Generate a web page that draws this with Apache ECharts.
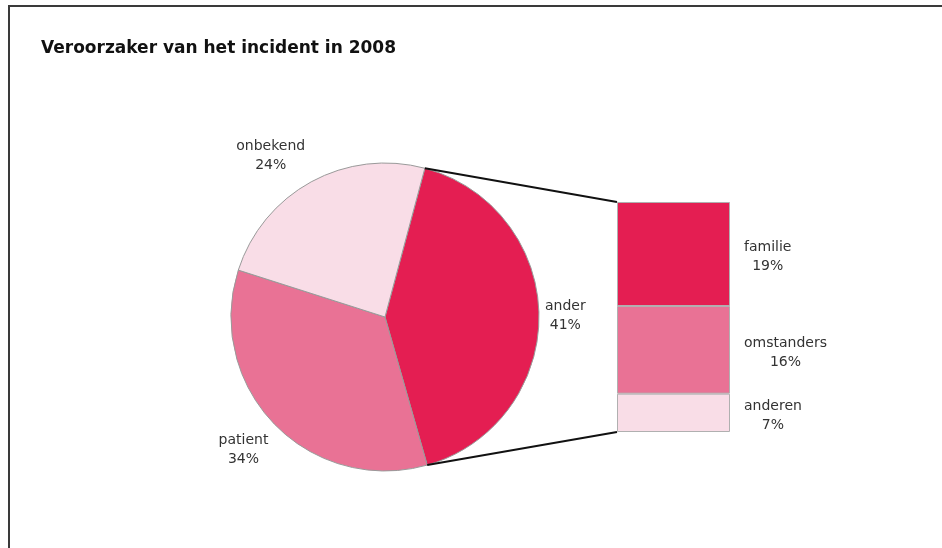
<!DOCTYPE html>
<html>
<head>
<meta charset="utf-8">
<script src="https://cdn.jsdelivr.net/npm/echarts@6/dist/echarts.min.js"></script>
<style>
  html, body { margin: 0; padding: 0; background: #fff; }
  #chart { width: 942px; height: 548px; }
</style>
</head>
<body>
<div id="chart"></div>
<script>
// Main breakdown (pie) and the split of "ander" (stacked bar)
const titleText = 'Veroorzaker van het incident in 2008';
const pieNames = ['ander', 'patient', 'onbekend'];
const pieValues = [41, 34, 24];
const barNames = ['familie', 'omstanders', 'anderen'];
const barValues = [19, 16, 7];

const DARK = '#E41E52', MID = '#E97295', LIGHT = '#F9DDE7';
const pieColors = [DARK, MID, LIGHT];
const barColors = [DARK, MID, LIGHT];
const FONT = '"DejaVu Sans", Verdana, sans-serif';
const TEXT = '#333333';

const CX = 385, CY = 317, R = 154;
const START = 75; // start of the "ander" slice, degrees from 3 o'clock
const GRID = { left: 617, top: 202, width: 113, height: 230 };
const GAP_X = 6, GAP_Y = 7; // distance between pie rim and label box

const pieTotal = pieValues.reduce((a, b) => a + b, 0);
const barTotal = barValues.reduce((a, b) => a + b, 0);

// middle angle of each slice, used to place the labels around the pie
const midAngles = [];
let acc = START;
pieValues.forEach(v => {
  const span = 360 * v / pieTotal;
  midAngles.push(acc - span / 2);
  acc -= span;
});

const chart = echarts.init(document.getElementById('chart'), null, { renderer: 'canvas' });

// bar segments are stacked bottom-up, so build them in reverse order
const barSeries = [];
for (let i = barNames.length - 1; i >= 0; i--) {
  barSeries.push({
    type: 'bar',
    name: barNames[i],
    stack: 'ander',
    barWidth: '100%',
    data: [barValues[i]],
    itemStyle: { color: barColors[i], borderColor: '#b0b0b0', borderWidth: 1 },
    label: {
      show: true,
      position: 'right',
      formatter: barNames[i] + '\n' + barValues[i] + '%',
      color: TEXT,
      fontFamily: FONT,
      fontSize: 14,
      lineHeight: 19
    },
    labelLayout: p => ({
      x: p.rect.x + p.rect.width + 14 + p.labelRect.width / 2,
      y: p.rect.y + p.rect.height / 2 + 3,
      align: 'center',
      verticalAlign: 'middle'
    }),
    emphasis: { disabled: true },
    silent: true,
    animation: false
  });
}

chart.setOption({
  animation: false,
  backgroundColor: '#fff',
  title: {
    text: titleText,
    left: 36,
    top: 35,
    textStyle: { fontFamily: FONT, fontSize: 17, fontWeight: 'bold', color: '#111' }
  },
  grid: GRID,
  xAxis: { type: 'category', data: ['ander'], show: false },
  yAxis: { type: 'value', min: 0, max: barTotal, show: false },
  series: [
    {
      type: 'pie',
      center: [CX, CY],
      radius: R,
      startAngle: START,
      clockwise: true,
      data: pieNames.map((n, i) => ({ name: n, value: pieValues[i], itemStyle: { color: pieColors[i] } })),
      itemStyle: { borderColor: '#9a9a9a', borderWidth: 1 },
      label: {
        show: true,
        position: 'inside',
        formatter: '{b}\n{c}%',
        color: TEXT,
        fontFamily: FONT,
        fontSize: 14,
        lineHeight: 19
      },
      labelLine: { show: false },
      // label box sits just outside the rim point at the slice's middle angle
      labelLayout: p => {
        const a = midAngles[p.dataIndex] * Math.PI / 180;
        const dx = Math.cos(a), dy = -Math.sin(a);
        const px = CX + R * dx, py = CY + R * dy;
        const w = p.labelRect.width, h = p.labelRect.height;
        const sx = dx > 0.3 ? 1 : dx < -0.3 ? -1 : 0;
        const sy = dy > 0.3 ? 1 : dy < -0.3 ? -1 : 0;
        return {
          x: px + sx * (GAP_X + w / 2),
          y: py + sy * (GAP_Y + h / 2),
          align: 'center',
          verticalAlign: 'middle'
        };
      },
      emphasis: { disabled: true },
      silent: true
    }
  ].concat(barSeries)
});

// connector lines from the edges of the "ander" slice to the bar corners
const a0 = START * Math.PI / 180;
const a1 = (START - 360 * pieValues[0] / pieTotal) * Math.PI / 180;
const pTop = [CX + R * Math.cos(a0), CY - R * Math.sin(a0)];
const pBot = [CX + R * Math.cos(a1), CY - R * Math.sin(a1)];
const barLeft = chart.convertToPixel({ xAxisIndex: 0 }, 'ander') - GRID.width / 2;
const barTopY = chart.convertToPixel({ yAxisIndex: 0 }, barTotal);
const barBotY = chart.convertToPixel({ yAxisIndex: 0 }, 0);

chart.setOption({
  graphic: [
    { type: 'polyline', silent: true, z: 100,
      shape: { points: [[942, 6], [9, 6], [9, 548]] },
      style: { stroke: '#3a3a3a', lineWidth: 2, fill: null } },
    { type: 'line', silent: true, z: 100,
      shape: { x1: pTop[0], y1: pTop[1], x2: barLeft, y2: barTopY },
      style: { stroke: '#111', lineWidth: 2 } },
    { type: 'line', silent: true, z: 100,
      shape: { x1: pBot[0], y1: pBot[1], x2: barLeft, y2: barBotY },
      style: { stroke: '#111', lineWidth: 2 } }
  ]
});
</script>
</body>
</html>
